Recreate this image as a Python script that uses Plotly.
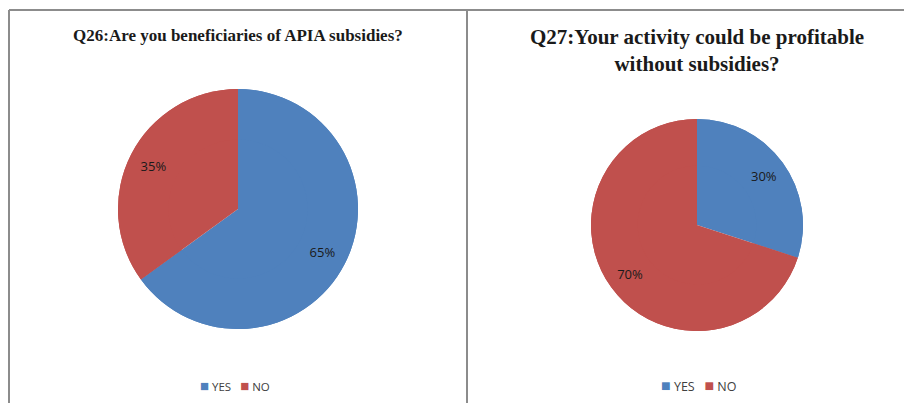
import plotly.graph_objects as go

labels = ["YES", "NO"]
q26_values = [65, 35]
q27_values = [30, 70]
colors = ["#4F81BD", "#C0504D"]
q26_title = "Q26:Are you beneficiaries of APIA subsidies?"
q27_title = "Q27:Your activity could be profitable<br>without subsidies?"

# page has an 8px body margin; figure sized to fit the window
OX, OY = 8, 8
W, H = 904, 395

def px(x):
    return (x - OX) / W

def py(y):
    return (H - (y - OY)) / H

def dom(cx, cy, r):
    return dict(x=[px(cx - r), px(cx + r)], y=[py(cy + r), py(cy - r)])

fig = go.Figure()

def add_pie(values, d, hole):
    # solid base pie
    fig.add_trace(go.Pie(
        labels=labels, values=values, sort=False, direction="clockwise", rotation=0,
        marker=dict(colors=colors), textinfo="none", domain=d,
        showlegend=False, hoverinfo="label+percent",
    ))
    # ring overlay carrying the percent labels further out, like Excel
    fig.add_trace(go.Pie(
        labels=labels, values=values, sort=False, direction="clockwise", rotation=0,
        marker=dict(colors=colors), textinfo="percent", textposition="inside",
        insidetextorientation="horizontal", hole=hole,
        textfont=dict(family="Open Sans", size=13, color="#1a1a1a"),
        domain=d, showlegend=False, hoverinfo="label+percent",
    ))

add_pie(q26_values, dom(238, 209, 120), 0.58)
add_pie(q27_values, dom(697, 225, 106), 0.56)

def legend_text(sq):
    parts = []
    for lab, col in zip(labels, colors):
        parts.append(f'<span style="color:{col};font-size:{sq}px">■</span>&nbsp;{lab}')
    return "&nbsp;&nbsp;&nbsp;".join(parts)

line = dict(color="#8c8c8c", width=2)
fig.update_layout(
    width=W, height=H, margin=dict(l=0, r=0, t=0, b=0),
    paper_bgcolor="white", plot_bgcolor="white",
    shapes=[
        dict(type="line", xref="paper", yref="paper", x0=px(9), x1=1, y0=py(10), y1=py(10), line=line),
        dict(type="line", xref="paper", yref="paper", x0=px(9), x1=px(9), y0=0, y1=py(10), line=line),
        dict(type="line", xref="paper", yref="paper", x0=px(467), x1=px(467), y0=0, y1=py(10), line=line),
    ],
    annotations=[
        dict(text=f"<b>{q26_title}</b>", x=px(238), y=py(35), xref="paper", yref="paper",
             showarrow=False, xanchor="center", yanchor="middle",
             font=dict(family="Liberation Serif", size=17, color="#1a1a1a")),
        dict(text=f"<b>{q27_title}</b>", x=px(697), y=py(50), xref="paper", yref="paper",
             showarrow=False, xanchor="center", yanchor="middle",
             font=dict(family="Liberation Serif", size=21, color="#1a1a1a")),
        dict(text=legend_text(15), x=px(235), y=py(385), xref="paper", yref="paper",
             showarrow=False, xanchor="center", yanchor="middle",
             font=dict(family="Open Sans", size=11.5, color="#404040")),
        dict(text=legend_text(16), x=px(699), y=py(385), xref="paper", yref="paper",
             showarrow=False, xanchor="center", yanchor="middle",
             font=dict(family="Open Sans", size=12.5, color="#404040")),
    ],
)
fig.write_html("out.html")
